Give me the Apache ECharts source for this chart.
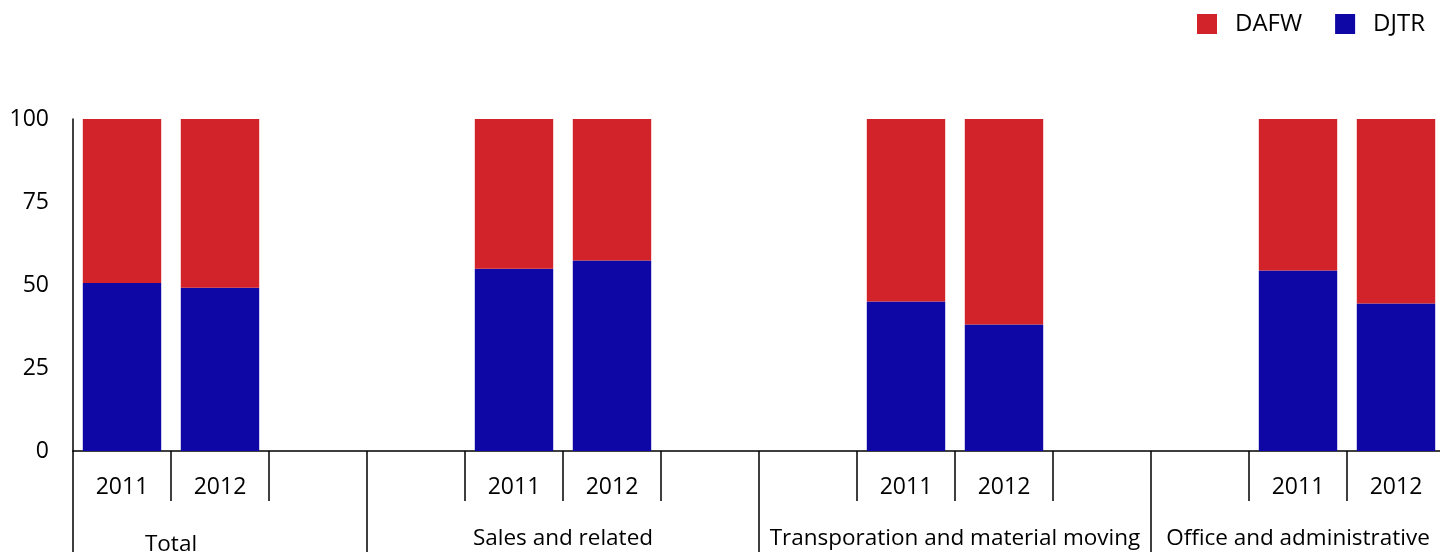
<!DOCTYPE html>
<html>
<head>
<meta charset="utf-8">
<script src="https://cdn.jsdelivr.net/npm/echarts@6/dist/echarts.min.js"></script>
<style>
html,body{margin:0;padding:0;background:#fff;}
#chart{width:1440px;height:552px;}
</style>
</head>
<body>
<div id="chart"></div>
<script>
// ---- data ----
const yearLabels = ['2011','2012','','','2011','2012','','','2011','2012','','','2011','2012'];
const djtrValues = [50.6, 49.2, null, null, 54.9, 57.4, null, null, 45.0, 38.1, null, null, 54.4, 44.4];
const dafwValues = [49.4, 50.8, null, null, 45.1, 42.6, null, null, 55.0, 61.9, null, null, 45.6, 55.6];
const groupNames = ['Total', 'Sales and related', 'Transporation and material moving', 'Office and administrative'];
const yTicks = [0, 25, 50, 75, 100];

// ---- layout helpers (half-slot points for the group axis) ----
const groupLabelPoints = [2, 10, 18, 25];
const groupBoundaryPoints = [0, 6, 14, 22, 28];
const groupAxisData = [];
for (let i = 0; i <= yearLabels.length * 2; i++) groupAxisData.push('');
groupNames.forEach((g, k) => { groupAxisData[groupLabelPoints[k]] = g; });

const FONT = '"Open Sans", sans-serif';
const RED = '#D2232A';
const BLUE = '#0E06A5';

const chart = echarts.init(document.getElementById('chart'));
chart.setOption({
  animation: false,
  legend: {
    data: ['DAFW', 'DJTR'],
    right: 10, top: 7,
    icon: 'rect',
    itemWidth: 20, itemHeight: 20, itemGap: 33,
    textStyle: { fontFamily: FONT, fontSize: 24, color: '#000', padding: [0, 0, 0, 13] }
  },
  grid: { left: 73, top: 119, width: 1372, height: 332, containLabel: false, outerBoundsMode: 'none' },
  xAxis: [
    {
      type: 'category',
      data: yearLabels,
      position: 'bottom',
      axisLine: { show: true, lineStyle: { color: '#000', width: 1.5 } },
      axisTick: { show: true, interval: 0, length: 50, lineStyle: { color: '#000', width: 1.5 } },
      axisLabel: { interval: 0, margin: 25, fontFamily: FONT, fontSize: 23, color: '#000' },
      splitLine: { show: false }
    },
    {
      type: 'category',
      data: groupAxisData,
      boundaryGap: false,
      position: 'bottom',
      axisLine: { show: false },
      axisTick: {
        show: true, length: 101,
        interval: (i) => groupBoundaryPoints.indexOf(i) >= 0,
        lineStyle: { color: '#000', width: 1.5 }
      },
      axisLabel: {
        interval: 0, margin: 76,
        fontFamily: FONT, fontSize: 22.5, color: '#000',
        formatter: (v) => v === groupNames[0] ? '{low|' + v + '}' : v,
        rich: { low: { fontFamily: FONT, fontSize: 22.5, color: '#000', padding: [6, 0, 0, 0] } }
      },
      splitLine: { show: false }
    }
  ],
  yAxis: {
    type: 'value',
    min: yTicks[0], max: yTicks[yTicks.length - 1], interval: 25,
    axisLine: { show: true, lineStyle: { color: '#000', width: 1.5 } },
    axisTick: { show: false },
    splitLine: { show: false },
    axisLabel: { margin: 24, fontFamily: FONT, fontSize: 23, color: '#000' }
  },
  series: [
    {
      name: 'DJTR', type: 'bar', stack: 'total', xAxisIndex: 0,
      data: djtrValues, barCategoryGap: '20%',
      itemStyle: { color: BLUE }
    },
    {
      name: 'DAFW', type: 'bar', stack: 'total', xAxisIndex: 0,
      data: dafwValues, barCategoryGap: '20%',
      itemStyle: { color: RED }
    }
  ]
});
</script>
</body>
</html>
